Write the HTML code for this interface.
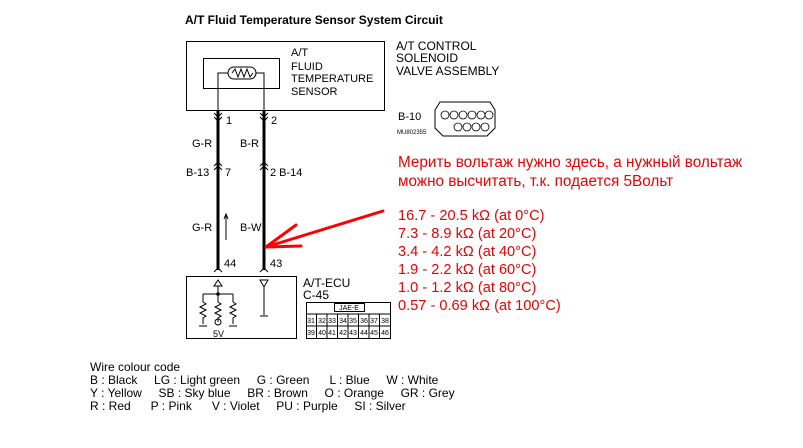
<!DOCTYPE html><html><head><meta charset="utf-8"><style>
body{margin:0;background:#fff;width:803px;height:443px;overflow:hidden}
svg text{font-family:"Liberation Sans",sans-serif}
</style></head><body>
<svg width="803" height="443" viewBox="0 0 803 443" xmlns="http://www.w3.org/2000/svg">
<text x="185" y="24" font-size="12" font-weight="bold">A/T Fluid Temperature Sensor System Circuit</text>
<g fill="none" stroke="#000" stroke-width="1">
<rect x="186.5" y="41.5" width="198" height="69"/>
<rect x="203.5" y="58.5" width="76" height="30"/>
<path d="M218 110V73H228M256 73H264V110"/>
<rect x="228" y="67" width="28" height="12" rx="6"/>
<path d="M232 73l3-4 3 8 3-8 3 8 3-8 3 8 3-4"/>
<path d="M214 113l4 4 4-4M214 117l4 4 4-4M260 113l4 4 4-4M260 117l4 4 4-4"/>
<path d="M214 166l4-4 4 4M214 170l4-4 4 4M260 166l4-4 4 4M260 170l4-4 4 4"/>
<path d="M214 272l4-4 4 4M260 272l4-4 4 4"/>
<path d="M226 240V214M224 219l2-5 2 5"/>
<rect x="186.5" y="276.5" width="110" height="62"/>
<path d="M218 280l-4 6h8zM218 286v8M203 294h30M203 294v8M218 294v8M233 294v8"/>
<path d="M203 302l3 2-6 3 6 3-6 3 6 3-3 2v6M218 302l3 2-6 3 6 3-6 3 6 3-3 2v4M233 302l3 2-6 3 6 3-6 3 6 3-3 2v6"/>
<circle cx="218" cy="322" r="3"/>
<path d="M199 326h8M229 326h8"/>
<path d="M260 280h8l-4 7zM264 287v28M260 316h8"/>
<rect x="306.5" y="302.5" width="84" height="36"/>
<rect x="334.5" y="303.5" width="30" height="8"/>
<path d="M306 314h84M306 326h84"/>
<path d="M316.5 314v24M327 314v24M337.5 314v24M348 314v24M358.5 314v24M369 314v24M379.5 314v24"/>
<path d="M440 102h50l5 8v18l-8 8h-44l-8-8v-18z"/>
</g>
<rect x="216.5" y="111" width="3" height="159" fill="#000"/>
<rect x="262.5" y="111" width="3" height="159" fill="#000"/>
<circle cx="218" cy="294" r="1.8" fill="#000"/>
<g font-size="11" fill="#000">
<text x="291" y="56">A/T</text><text x="291" y="70">FLUID</text><text x="291" y="82">TEMPERATURE</text><text x="291" y="95">SENSOR</text>
<text x="396" y="50" font-size="12">A/T CONTROL</text><text x="396" y="62" font-size="12">SOLENOID</text><text x="396" y="75" font-size="12">VALVE ASSEMBLY</text>
<text x="398" y="120">B-10</text>
<text x="226" y="124">1</text><text x="271" y="124">2</text>
<text x="192" y="147">G-R</text><text x="240" y="147">B-R</text>
<text x="186" y="176">B-13</text><text x="225" y="176">7</text><text x="270" y="176">2 B-14</text>
<text x="192" y="231">G-R</text><text x="240" y="231">B-W</text>
<text x="224" y="267">44</text><text x="270" y="267">43</text>
<text x="303" y="287" font-size="12">A/T-ECU</text><text x="303" y="299" font-size="12">C-45</text>
<text x="213" y="337" font-size="9">5V</text>
</g>
<text x="397" y="134" font-size="6">MU802355</text>
<g font-size="7" text-anchor="middle">
<text x="349" y="310">JAE-E</text>
<text x="311" y="323">31</text><text x="322" y="323">32</text><text x="332" y="323">33</text><text x="343" y="323">34</text><text x="353" y="323">35</text><text x="364" y="323">36</text><text x="374" y="323">37</text><text x="385" y="323">38</text>
<text x="311" y="335">39</text><text x="322" y="335">40</text><text x="332" y="335">41</text><text x="343" y="335">42</text><text x="353" y="335">43</text><text x="364" y="335">44</text><text x="374" y="335">45</text><text x="385" y="335">46</text>
</g>
<g fill="none" stroke="#000" stroke-width="0.8">
<circle cx="445" cy="115" r="4"/><circle cx="454" cy="115" r="4"/><circle cx="463" cy="115" r="4"/><circle cx="472" cy="115" r="4"/><circle cx="481" cy="115" r="4"/><circle cx="489" cy="115" r="4"/>
<circle cx="458" cy="127" r="4"/><circle cx="467" cy="127" r="4"/><circle cx="476" cy="127" r="4"/><circle cx="485" cy="127" r="4"/>
</g>
<g stroke="#f00" stroke-width="3" fill="none" stroke-linecap="round">
<path d="M383 211L266 247M266 247l30-22M266 247l35-1"/>
</g>
<g fill="#e00" font-size="15.3">
<text x="398" y="167">Мерить вольтаж нужно здесь, а нужный вольтаж</text>
<text x="398" y="186">можно высчитать, т.к. подается 5Вольт</text>
</g>
<g fill="#e00" font-size="14.6">
<text x="398" y="220">16.7 - 20.5 kΩ (at 0°C)</text>
<text x="398" y="238">7.3 - 8.9 kΩ (at 20°C)</text>
<text x="398" y="256">3.4 - 4.2 kΩ (at 40°C)</text>
<text x="398" y="274">1.9 - 2.2 kΩ (at 60°C)</text>
<text x="398" y="292">1.0 - 1.2 kΩ (at 80°C)</text>
<text x="398" y="310">0.57 - 0.69 kΩ (at 100°C)</text>
</g>
<g font-size="12" fill="#000">
<text x="90" y="371">Wire colour code</text>
<text x="90" y="384" xml:space="preserve">B : Black     LG : Light green     G : Green      L : Blue     W : White</text>
<text x="90" y="397" xml:space="preserve">Y : Yellow     SB : Sky blue     BR : Brown     O : Orange     GR : Grey</text>
<text x="90" y="410" xml:space="preserve">R : Red      P : Pink      V : Violet     PU : Purple     SI : Silver</text>
</g>
</svg></body></html>
